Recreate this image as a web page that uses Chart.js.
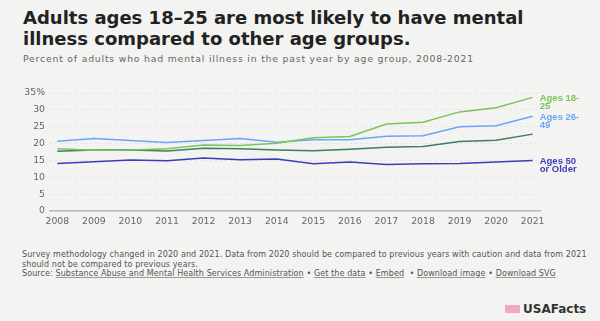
<!DOCTYPE html>
<html>
<head>
<meta charset="utf-8">
<script src="https://cdn.jsdelivr.net/npm/chart.js@4/dist/chart.umd.min.js"></script>
<style>
    body { margin: 0; background: #f3f4f1; font-family: "DejaVu Sans", sans-serif; }
    .page { position: relative; width: 600px; height: 321px; overflow: hidden; }
    .title { position: absolute; left: 23px; top: 7px; white-space: nowrap; font-size: 18px; font-weight: bold; line-height: 21px; color: #222; }
    .subtitle { position: absolute; left: 23px; top: 53px; white-space: nowrap; font-size: 9.3px; letter-spacing: 0.8px; color: #666; }
    .chart-box { position: absolute; left: 0; top: 80px; width: 600px; height: 150px; }
    .note { position: absolute; left: 22px; top: 250px; white-space: nowrap; font-size: 8px; letter-spacing: 0.1px; line-height: 9.5px; color: #555; }
    .note u { text-decoration-color: #999; }
    .logo { position: absolute; left: 505px; top: 302px; font-size: 12px; font-weight: bold; color: #333; white-space: nowrap; }
    .logo .flag { display: inline-block; width: 15px; height: 8px; background: #f0a8c8; margin-right: 3px; vertical-align: 0; }
</style>
</head>
<body>
<div class="page">
    <div class="title">Adults ages 18–25 are most likely to have mental<br>illness compared to other age groups.</div>
    <div class="subtitle">Percent of adults who had mental illness in the past year by age group, 2008-2021</div>
    <div class="chart-box"><canvas id="chart"></canvas></div>
    <div class="note">
        Survey methodology changed in 2020 and 2021. Data from 2020 should be compared to previous years with caution and data from 2021<br>should not be compared to previous years.<br>
        Source: <u>Substance Abuse and Mental Health Services Administration</u> • <u>Get the data</u> • <u>Embed</u> &nbsp;• <u>Download image</u> • <u>Download SVG</u>
    </div>
    <div class="logo"><span class="flag"></span>USAFacts</div>
</div>
<script>
// 数据
const years = [2008, 2009, 2010, 2011, 2012, 2013, 2014, 2015, 2016, 2017, 2018, 2019, 2020, 2021];
const ages18to25 = [18.5, 18.0, 18.1, 18.5, 19.6, 19.4, 20.1, 21.7, 22.1, 25.8, 26.3, 29.4, 30.6, 33.7];
const ages26to49 = [20.7, 21.5, 20.9, 20.3, 20.9, 21.5, 20.4, 21.1, 21.1, 22.2, 22.3, 25.0, 25.3, 28.1];
const allAdults = [17.7, 18.1, 18.1, 17.8, 18.6, 18.5, 18.1, 17.9, 18.3, 18.9, 19.1, 20.6, 21.0, 22.8];
const ages50plus = [14.1, 14.6, 15.1, 14.9, 15.7, 15.2, 15.4, 14.0, 14.5, 13.8, 14.0, 14.1, 14.5, 15.0];
const yTicks = [0, 5, 10, 15, 20, 25, 30, 35];

const series = [
    { label: 'Ages 18-25', tag: ['Ages 18-', '25'], data: ages18to25, color: '#7cc35b' },
    { label: 'Ages 26-49', tag: ['Ages 26-', '49'], data: ages26to49, color: '#6aa5f8' },
    { label: 'All adults', tag: null, data: allAdults, color: '#3f7d63' },
    { label: 'Ages 50 or Older', tag: ['Ages 50', 'or Older'], data: ages50plus, color: '#3b3db8' }
];

const tickFont = { size: 9.3, family: '"DejaVu Sans", sans-serif' };

// 右侧标签
const endLabels = {
    id: 'endLabels',
    afterDatasetsDraw(chart) {
        const ctx = chart.ctx;
        ctx.save();
        ctx.font = 'bold 9.5px "Liberation Sans", Arial, sans-serif';
        ctx.textBaseline = 'middle';
        chart.data.datasets.forEach((ds, i) => {
            const s = series[i];
            if (!s.tag) return;
            const pt = chart.getDatasetMeta(i).data[ds.data.length - 1];
            ctx.fillStyle = s.color;
            ctx.fillText(s.tag[0], pt.x + 7, pt.y + 1);
            ctx.fillText(s.tag[1], pt.x + 7, pt.y + 9);
        });
        ctx.restore();
    }
};

new Chart(document.getElementById('chart'), {
    type: 'line',
    data: {
        datasets: series.map(s => ({
            label: s.label,
            data: s.data.map((v, i) => ({ x: years[i], y: v })),
            borderColor: s.color,
            backgroundColor: s.color,
            borderWidth: 1.5,
            pointRadius: 0,
            tension: 0
        }))
    },
    options: {
        responsive: true,
        maintainAspectRatio: false,
        animation: false,
        layout: { padding: { top: 13, right: 60, left: 0, bottom: 0 } },
        plugins: { legend: { display: false }, tooltip: { enabled: false } },
        scales: {
            x: {
                type: 'linear',
                min: 2007.8,
                max: 2021.2,
                afterBuildTicks: s => { s.ticks = years.map(v => ({ value: v })); },
                afterFit: s => { s.height = 19; },
                grid: { display: false, drawTicks: false },
                border: { color: '#b8b8b8', width: 1.5 },
                ticks: {
                    color: '#666',
                    font: tickFont,
                    padding: 5,
                    maxRotation: 0,
                    callback: v => String(v)
                }
            },
            y: {
                min: 0,
                max: 35,
                afterBuildTicks: s => { s.ticks = yTicks.map(v => ({ value: v })); },
                afterFit: s => { s.width = 50; },
                grid: { color: '#dcdcdc', lineWidth: 0.8, drawTicks: false },
                border: { display: false, dash: [2, 3] },
                ticks: {
                    color: '#666',
                    font: tickFont,
                    padding: 5,
                    callback: v => v === 35 ? '35%' : String(v)
                }
            }
        }
    },
    plugins: [endLabels]
});
</script>
</body>
</html>
